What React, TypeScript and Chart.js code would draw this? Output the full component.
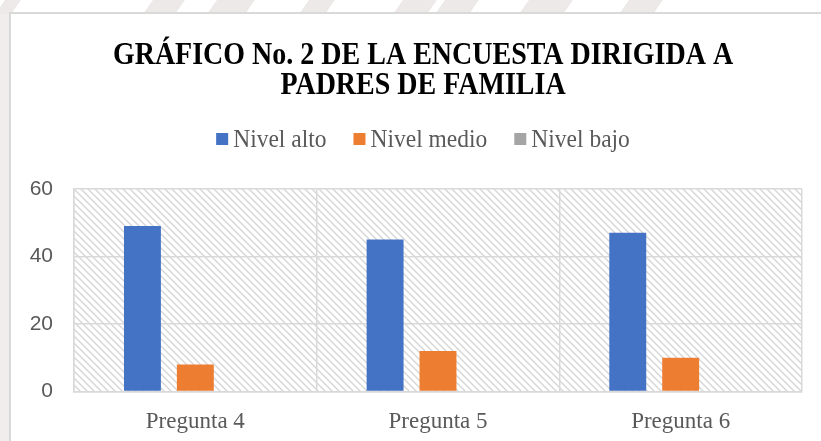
import React, { useEffect, useRef } from "react";
import { Chart, registerables } from "chart.js";

Chart.register(...registerables);

const categories = ["Pregunta 4", "Pregunta 5", "Pregunta 6"];
const seriesNames = ["Nivel alto", "Nivel medio", "Nivel bajo"];
const nivelAlto = [49, 45, 47];
const nivelMedio = [8, 12, 10];
const nivelBajo = [0, 0, 0];
const yMin = 0;
const yMax = 60;
const yStep = 20;
const titleLines = ["GRÁFICO No. 2 DE LA ENCUESTA DIRIGIDA A", "PADRES DE FAMILIA"];
const seriesColors = ["#4472C4", "#ED7D31", "#A5A5A5"];

const GRID = "#d9d9d9";
const TEXT = "#595959";

const hatchPlugin = {
  id: "hatch",
  beforeDraw(chart: any) {
    const { ctx, chartArea: a } = chart;
    if (!a) return;
    const s = 7;
    const p = document.createElement("canvas");
    p.width = s;
    p.height = s;
    const pc = p.getContext("2d")!;
    pc.fillStyle = "#ffffff";
    pc.fillRect(0, 0, s, s);
    pc.strokeStyle = "#d6d6d6";
    pc.lineWidth = 1.4;
    pc.beginPath();
    pc.moveTo(-1, -1);
    pc.lineTo(s + 1, s + 1);
    pc.moveTo(-1, s - 1);
    pc.lineTo(1, s + 1);
    pc.moveTo(s - 1, -1);
    pc.lineTo(s + 1, 1);
    pc.stroke();
    ctx.save();
    const pat = ctx.createPattern(p, "repeat");
    if (pat) {
      ctx.fillStyle = pat;
      ctx.fillRect(a.left, a.top, a.right - a.left, a.bottom - a.top);
    }
    ctx.restore();
  },
};

const titlePlugin = {
  id: "centeredTitle",
  afterDraw(chart: any, _args: any, opts: any) {
    const ctx = chart.ctx;
    const lines: string[] = opts.lines || [];
    const sy = opts.stretch || 1;
    ctx.save();
    ctx.font = "bold 28px 'Liberation Serif'";
    ctx.fillStyle = "#000000";
    ctx.textAlign = "center";
    ctx.textBaseline = "middle";
    lines.forEach((line, i) => {
      const y = opts.y + i * opts.lineHeight;
      ctx.save();
      ctx.translate(chart.width / 2, y);
      ctx.scale(1, sy);
      ctx.fillText(line, 0, 0);
      ctx.restore();
    });
    ctx.restore();
  },
};

const legendPlugin = {
  id: "customLegend",
  afterDraw(chart: any, _args: any, opts: any) {
    const ctx = chart.ctx;
    ctx.save();
    ctx.font = "23.5px 'Liberation Serif'";
    ctx.textBaseline = "middle";
    const box = 12;
    const gap = 5;
    const spacing = 27;
    const items = chart.data.datasets.map((d: any) => ({
      label: d.label as string,
      color: d.backgroundColor as string,
      w: ctx.measureText(d.label).width,
    }));
    const total =
      items.reduce((sum: number, it: any) => sum + box + gap + it.w, 0) +
      spacing * (items.length - 1);
    let x = chart.width / 2 - total / 2;
    const y = opts.y ?? 125;
    for (const it of items) {
      ctx.fillStyle = it.color;
      ctx.fillRect(x, y - box / 2, box, box);
      ctx.fillStyle = TEXT;
      ctx.textAlign = "left";
      ctx.save();
      ctx.translate(x + box + gap, y + 1);
      ctx.scale(1, 1.08);
      ctx.fillText(it.label, 0, 0);
      ctx.restore();
      x += box + gap + it.w + spacing;
    }
    ctx.restore();
  },
};

function ChartCanvas() {
  const ref = useRef<HTMLCanvasElement | null>(null);
  useEffect(() => {
    if (!ref.current) return;
    const seriesValues = [nivelAlto, nivelMedio, nivelBajo];
    const chart = new Chart(ref.current, {
      type: "bar",
      data: {
        labels: categories,
        datasets: seriesNames.map((name, i) => ({
          label: name,
          data: seriesValues[i],
          backgroundColor: seriesColors[i],
          borderWidth: 0,
          categoryPercentage: 0.654,
          barPercentage: 0.698,
        })),
      },
      options: {
        responsive: false,
        animation: false,
        devicePixelRatio: 1,
        layout: { padding: { top: 175, left: 0, right: 33, bottom: 5 } },
        plugins: {
          legend: { display: false },
          tooltip: { enabled: false },
          title: { display: false },
          centeredTitle: { lines: titleLines, y: 42, lineHeight: 30, stretch: 1.12 },
          customLegend: { y: 125 },
        } as any,
        scales: {
          x: {
            grid: { color: GRID, lineWidth: 1.5, drawTicks: false, offset: true },
            border: { display: true, color: GRID, width: 1.5 },
            ticks: {
              color: TEXT,
              font: { family: "'Liberation Serif'", size: 23 },
              padding: 17,
            },
          },
          y: {
            min: yMin,
            max: yMax,
            grid: { color: GRID, lineWidth: 1.5, drawTicks: false },
            border: { display: true, color: GRID, width: 1.5 },
            ticks: {
              stepSize: yStep,
              color: TEXT,
              font: { family: "'Liberation Sans'", size: 21 },
              padding: 21,
            },
            afterFit(scale: any) {
              scale.width = 63;
            },
          },
        },
      },
      plugins: [hatchPlugin, titlePlugin, legendPlugin],
    });
    return () => chart.destroy();
  }, []);
  return <canvas ref={ref} width={824} height={444} style={{ display: "block" }} />;
}

const stripes = [
  { left: 0, width: 16 },
  { left: 148, width: 32 },
  { left: 212, width: 38 },
  { left: 304, width: 26 },
  { left: 398, width: 34 },
  { left: 440, width: 34 },
  { left: 524, width: 44 },
  { left: 624, width: 34 },
];

export default function App() {
  return (
    <div
      style={{
        position: "fixed",
        left: 0,
        top: 0,
        width: 821,
        height: 441,
        overflow: "hidden",
        background: "#ffffff",
      }}
    >
      <div
        style={{
          position: "absolute",
          left: 0,
          top: 12,
          width: 10,
          height: 441,
          background: "#f1eded",
        }}
      />
      {stripes.map((s, i) => (
        <div
          key={i}
          style={{
            position: "absolute",
            left: s.left,
            top: 0,
            width: s.width,
            height: 14,
            background: "#eee9e9",
            transform: "skewX(-35deg)",
          }}
        />
      ))}
      <div
        style={{
          position: "absolute",
          left: 9,
          top: 12,
          width: 900,
          height: 500,
          border: `2px solid ${GRID}`,
          background: "#ffffff",
        }}
      >
        <ChartCanvas />
      </div>
    </div>
  );
}
